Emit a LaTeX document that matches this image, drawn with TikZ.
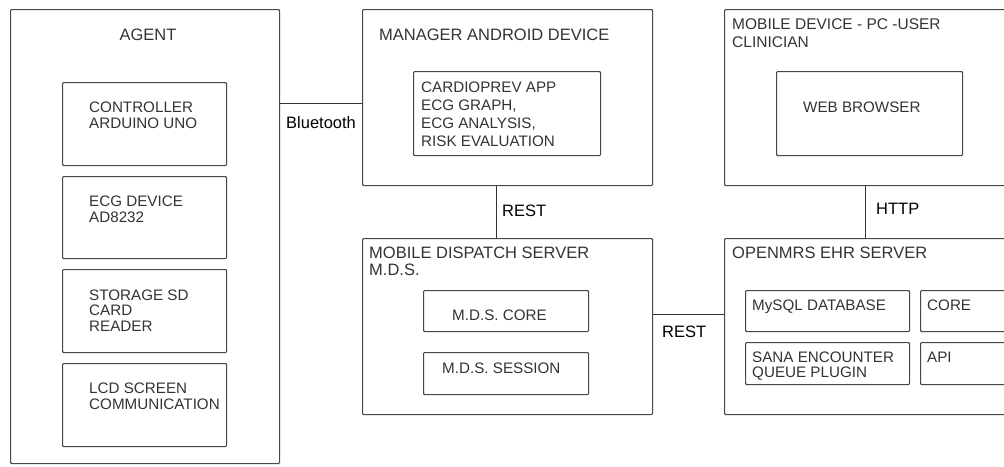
\documentclass[tikz,border=0pt]{standalone}
\usepackage{fontspec}
\setmainfont{Liberation Sans}
\usetikzlibrary{positioning,calc}

\begin{document}
\begin{tikzpicture}[
            x=1pt, y=-1pt,
            box/.style={
                    draw=black!72, line width=1.1pt, rounded corners=1pt,
                    anchor=north west, inner sep=0pt
                },
            title/.style={
                    font=\fontsize{16.5}{17}\selectfont, text=black!80,
                    anchor=north west, inner sep=0pt, align=left
                },
            txt/.style={
                    font=\fontsize{15.2}{16}\selectfont, text=black!80,
                    anchor=north west, inner sep=0pt, align=left
                },
            lbl/.style={font=\fontsize{16.5}{17}\selectfont, anchor=west, inner sep=0pt},
            link/.style={draw=black!80, line width=1.1pt},
            ]

            \useasboundingbox (0,0) rectangle (1004,466);
            \clip (0,0) rectangle (1004,466);

            % agent and its parts
            \node[box, minimum width=269pt, minimum height=454pt] (agent) at (10,9) {};
            \node[box, minimum width=164pt, minimum height=83pt] (ctrl) at (62,82) {};
            \node[box, minimum width=164pt, minimum height=82pt] (ecg) at (62,176) {};
            \node[box, minimum width=164pt, minimum height=83pt] (sd) at (62,269) {};
            \node[box, minimum width=164pt, minimum height=83pt] (lcd) at (62,363) {};

            \node[title, anchor=center] (agent-t) at (148,35) {AGENT};
            \node[txt] (ctrl-t) at (89,101.5) {CONTROLLER\\ARDUINO UNO};
            \node[txt] (ecg-t) at (89,195.5) {ECG DEVICE\\AD8232};
            \node[txt, font=\fontsize{15.2}{15.5}\selectfont] (sd-t) at (89,289.5) {STORAGE SD\\CARD\\READER};
            \node[txt] (lcd-t) at (89,382.5) {LCD SCREEN\\COMMUNICATION};

            % manager android device
            \node[box, minimum width=290pt, minimum height=176pt] (manager) at (362,9) {};
            \node[box, minimum width=187pt, minimum height=84pt] (app) at (413,71) {};
            \node[title] (manager-t) at (379,29) {MANAGER ANDROID DEVICE};
            \node[txt, font=\fontsize{15.2}{18}\selectfont] (app-t) at (421,81.5)
                {CARDIOPREV APP\\ECG GRAPH,\\ECG ANALYSIS,\\RISK EVALUATION};

            % mobile dispatch server
            \node[box, minimum width=290pt, minimum height=176pt] (mds) at (362,238) {};
            \node[box, minimum width=165pt, minimum height=41pt] (core) at (423,290) {};
            \node[box, minimum width=165pt, minimum height=42pt] (session) at (423,352) {};
            \node[title] (mds-t) at (369,247) {MOBILE DISPATCH SERVER\\M.D.S.};
            \node[txt, anchor=west] (core-t) at (452,315) {M.D.S. CORE};
            \node[txt, anchor=west] (session-t) at (442,368) {M.D.S. SESSION};

            % clinician device
            \node[box, minimum width=290pt, minimum height=176pt] (mobile) at (724,9) {};
            \node[box, minimum width=186pt, minimum height=84pt] (web) at (776,71) {};
            \node[title, font=\fontsize{15.5}{18}\selectfont] (mobile-t) at (732,18) {MOBILE DEVICE - PC -USER\\CLINICIAN};
            \node[txt, anchor=west] (web-t) at (803,107) {WEB BROWSER};

            % openmrs server
            \node[box, minimum width=290pt, minimum height=176pt] (ehr) at (724,238) {};
            \node[box, minimum width=164pt, minimum height=41pt] (mysql) at (745,290) {};
            \node[box, minimum width=100pt, minimum height=41pt] (ehrcore) at (920,290) {};
            \node[box, minimum width=164pt, minimum height=42pt] (sana) at (745,342) {};
            \node[box, minimum width=100pt, minimum height=42pt] (api) at (920,342) {};
            \node[title] (ehr-t) at (732,247) {OPENMRS EHR SERVER};
            \node[txt] (mysql-t) at (752,299.5) {MySQL DATABASE};
            \node[txt] (ehrcore-t) at (927,299.5) {CORE};
            \node[txt, font=\fontsize{15.2}{15}\selectfont] (sana-t) at (752,351.5) {SANA ENCOUNTER\\QUEUE PLUGIN};
            \node[txt] (api-t) at (927,351.5) {API};

            % connections
            \draw[link] ([yshift=-6pt]manager.west) -- ([yshift=-6pt]manager.west -| agent.east);
            \draw[link] ([xshift=-11pt]manager.south) -- ([xshift=-11pt]manager.south |- mds.north);
            \draw[link] ([yshift=12pt]mds.east) -- ([yshift=12pt]mds.east -| ehr.west);
            \draw[link] ([xshift=-4pt]mobile.south) -- ([xshift=-4pt]mobile.south |- ehr.north);

            \node[lbl] (bt) at (286,123) {Bluetooth};
            \node[lbl] (rest-a) at (502,211) {REST};
            \node[lbl] (rest-b) at (662,332) {REST};
            \node[lbl] (http) at (876,209) {HTTP};
        \end{tikzpicture}
\end{document}
